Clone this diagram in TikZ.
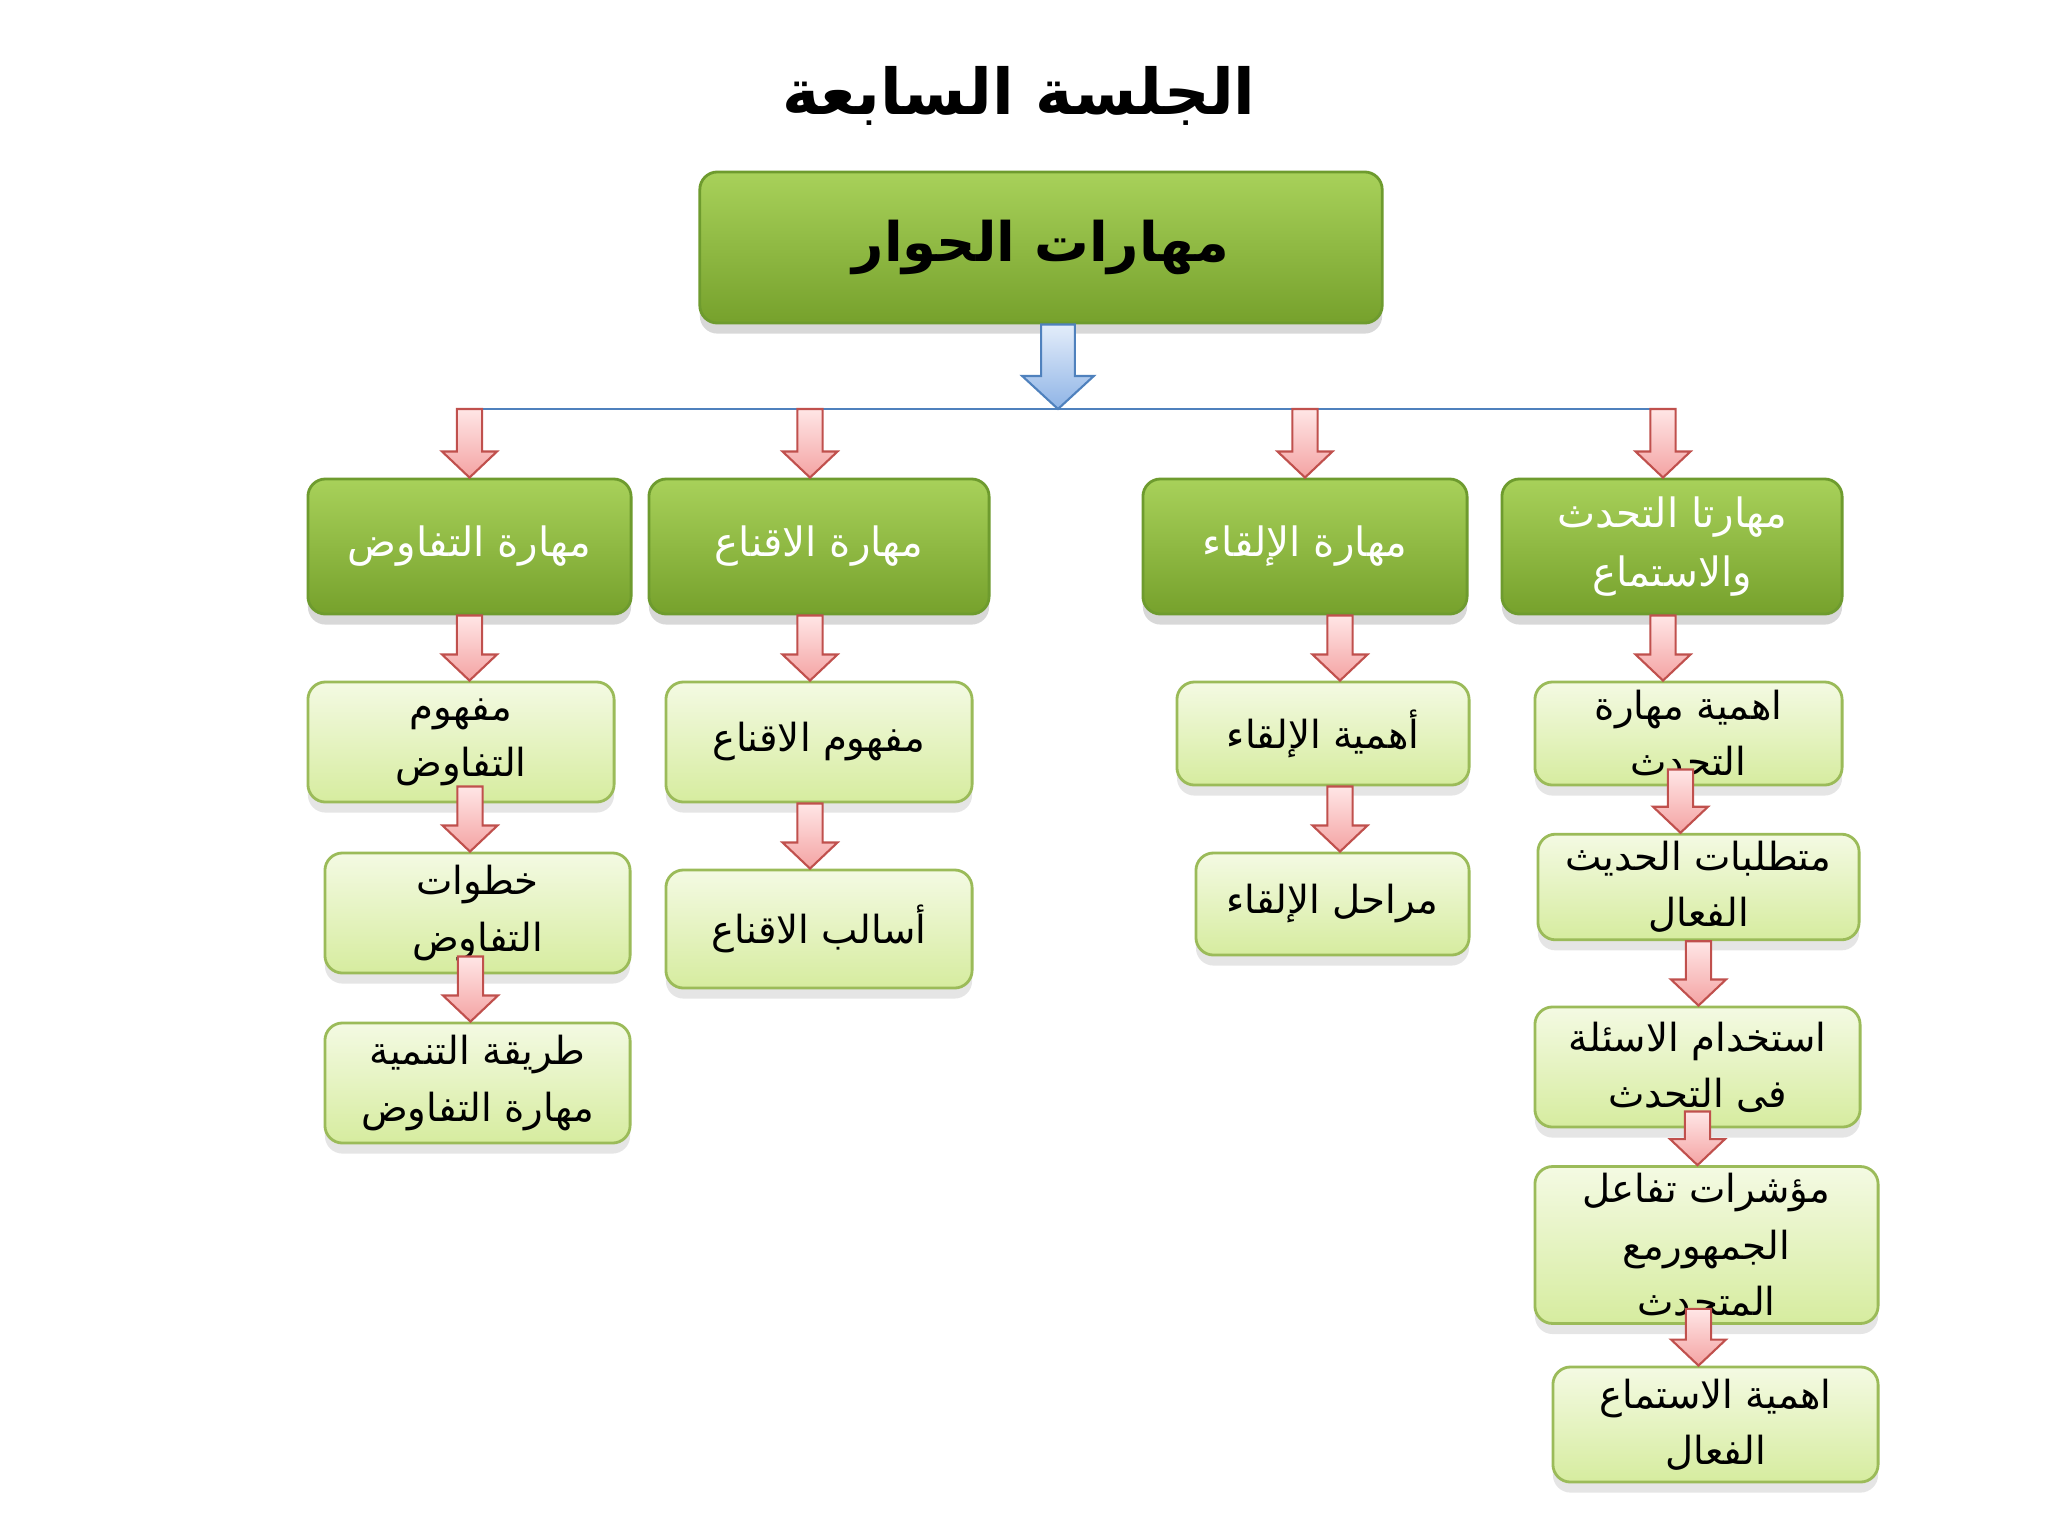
\documentclass[tikz,border=0pt]{standalone}
\usepackage{fontspec}
\usepackage{tikz}
\usepackage{xcolor}
\usetikzlibrary{calc,shadows}
\TeXXeTstate=1
\newfontfamily\arabicfont[Script=Arabic]{DejaVu Sans}
\newcommand{\ar}[1]{\beginR #1\endR}
\definecolor{SkillTop}{HTML}{A8D15A}
\definecolor{SkillBot}{HTML}{76A12C}
\definecolor{SkillLine}{HTML}{6E9B2E}
\definecolor{TopicTop}{HTML}{F4FAE3}
\definecolor{TopicBot}{HTML}{D6EC9F}
\definecolor{TopicLine}{HTML}{9BBB59}
\definecolor{ArrRed}{HTML}{C0504D}
\definecolor{ArrPinkTop}{HTML}{FFE6E6}
\definecolor{ArrPinkBot}{HTML}{F4A3A3}
\definecolor{ArrBlue}{HTML}{4F81BD}
\definecolor{BlueTop}{HTML}{E3EDFA}
\definecolor{BlueBot}{HTML}{8FB4E6}
\tikzset{
  skillbox/.style={draw=SkillLine, line width=0.8pt, rounded corners=5pt,
    top color=SkillTop, bottom color=SkillBot, text=white, align=center, inner sep=2pt,
    font=\arabicfont\fontsize{11.5}{17}\selectfont,
    drop shadow={shadow xshift=0pt, shadow yshift=-3pt, opacity=0.3}},
  topicbox/.style={draw=TopicLine, line width=0.8pt, rounded corners=5pt,
    top color=TopicTop, bottom color=TopicBot, text=black, align=center, inner sep=2pt,
    font=\arabicfont\fontsize{11}{16}\selectfont,
    drop shadow={shadow xshift=0pt, shadow yshift=-3pt, opacity=0.2}},
  redarr/.style={draw=ArrRed, line width=0.6pt, top color=ArrPinkTop, bottom color=ArrPinkBot},
  bluearr/.style={draw=ArrBlue, line width=0.6pt, top color=BlueTop, bottom color=BlueBot},
  busline/.style={draw=ArrBlue, line width=0.6pt}
}
% block arrow: x from #1, tip at the y of #2
\newcommand{\flowarr}[2]{%
  \draw[redarr] let \p1=(#1), \p2=(#2) in
    (\x1-3.6pt,\y1) -- (\x1+3.6pt,\y1) -- (\x1+3.6pt,\y2+7.4pt)
    -- (\x1+7.8pt,\y2+7.4pt) -- (\x1,\y2) -- (\x1-7.8pt,\y2+7.4pt)
    -- (\x1-3.6pt,\y2+7.4pt) -- cycle;}

\begin{document}
\begin{tikzpicture}[x=0.01cm,y=-0.01cm]
  \useasboundingbox[fill=white] (0,0) rectangle (2048,1536);

  \node[font=\arabicfont\bfseries\fontsize{18}{22}\selectfont] (title) at (1019,96) {\ar{الجلسة السابعة}};
  \node[skillbox, text=black, font=\arabicfont\bfseries\fontsize{15.5}{20}\selectfont,
    minimum width=6.82cm, minimum height=1.51cm] (top) at (1041,247.5) {\ar{مهارات الحوار}};

  % blue arrow and bus
  \coordinate (bus) at (1058,409);
  \draw[bluearr] let \p1=($(top.south)+(17,0)$), \p2=(bus) in
    (\x1-4.8pt,\y1) -- (\x1+4.8pt,\y1) -- (\x1+4.8pt,\y2+9.4pt)
    -- (\x1+10.2pt,\y2+9.4pt) -- (\x1,\y2) -- (\x1-10.2pt,\y2+9.4pt)
    -- (\x1-4.8pt,\y2+9.4pt) -- cycle;
  \coordinate (busL) at (470,409);
  \coordinate (busR) at (1663,409);
  \draw[busline] (busL) -- (busR);

  % skills row
  \node[skillbox, minimum width=3.23cm, minimum height=1.35cm] (A) at (469.5,546.5) {\ar{مهارة التفاوض}};
  \node[skillbox, minimum width=3.40cm, minimum height=1.35cm] (B) at (819,546.5) {\ar{مهارة الاقناع}};
  \node[skillbox, minimum width=3.24cm, minimum height=1.35cm] (C) at (1305,546.5) {\ar{مهارة الإلقاء}};
  \node[skillbox, minimum width=3.40cm, minimum height=1.35cm] (D) at (1672,546.5) {\ar{مهارتا التحدث}\\\ar{والاستماع}};

  % negotiation column
  \node[topicbox, minimum width=3.06cm, minimum height=1.20cm] (A1) at (461,742) {\ar{مفهوم}\\\ar{التفاوض}};
  \node[topicbox, minimum width=3.05cm, minimum height=1.20cm] (A2) at (477.5,913) {\ar{خطوات}\\\ar{التفاوض}};
  \node[topicbox, minimum width=3.05cm, minimum height=1.20cm] (A3) at (477.5,1083) {\ar{طريقة التنمية}\\\ar{مهارة التفاوض}};

  % persuasion column
  \node[topicbox, minimum width=3.06cm, minimum height=1.20cm] (B1) at (819,742) {\ar{مفهوم الاقناع}};
  \node[topicbox, minimum width=3.06cm, minimum height=1.18cm] (B2) at (819,929) {\ar{أسالب الاقناع}};

  % delivery column
  \node[topicbox, minimum width=2.92cm, minimum height=1.03cm] (C1) at (1323,733.5) {\ar{أهمية الإلقاء}};
  \node[topicbox, minimum width=2.73cm, minimum height=1.02cm] (C2) at (1332.5,904) {\ar{مراحل الإلقاء}};

  % speaking and listening column
  \node[topicbox, minimum width=3.07cm, minimum height=1.03cm] (D1) at (1688.5,733.5) {\ar{اهمية مهارة}\\\ar{التحدث}};
  \node[topicbox, minimum width=3.21cm, minimum height=1.00cm] (D2) at (1698.5,887) {\ar{متطلبات الحديث}\\\ar{الفعال}};
  \node[topicbox, minimum width=3.25cm, minimum height=1.20cm] (D3) at (1697.5,1067) {\ar{استخدام الاسئلة}\\\ar{فى التحدث}};
  \node[topicbox, minimum width=3.43cm, minimum height=1.36cm] (D4) at (1706.5,1245) {\ar{مؤشرات تفاعل}\\\ar{الجمهورمع}\\\ar{المتحدث}};
  \node[topicbox, minimum width=3.25cm, minimum height=1.15cm] (D5) at (1715.5,1424.5) {\ar{اهمية الاستماع}\\\ar{الفعال}};

  % arrows
  \flowarr{A.north |- bus}{A.north}
  \flowarr{$(B.north |- bus)+(-9,0)$}{B.north}
  \flowarr{C.north |- bus}{C.north}
  \flowarr{$(D.north |- bus)+(-9,0)$}{D.north}
  \flowarr{A.south}{A1.north}
  \flowarr{$(A1.south)+(9,-17)$}{A2.north}
  \flowarr{$(A2.south)+(-7,-18)$}{A3.north}
  \flowarr{$(B.south)+(-9,0)$}{B1.north}
  \flowarr{$(B1.south)+(-9,0)$}{B2.north}
  \flowarr{$(C.south)+(35,0)$}{C1.north}
  \flowarr{$(C1.south)+(17,0)$}{C2.north}
  \flowarr{$(D.south)+(-9,0)$}{D1.north}
  \flowarr{$(D1.south)+(-8,-17)$}{D2.north}
  \flowarr{D2.south}{D3.north}
  \flowarr{$(D3.south)+(0,-17)$}{D4.north}
  \flowarr{$(D4.south)+(-8,-16)$}{D5.north}
\end{tikzpicture}
\end{document}
